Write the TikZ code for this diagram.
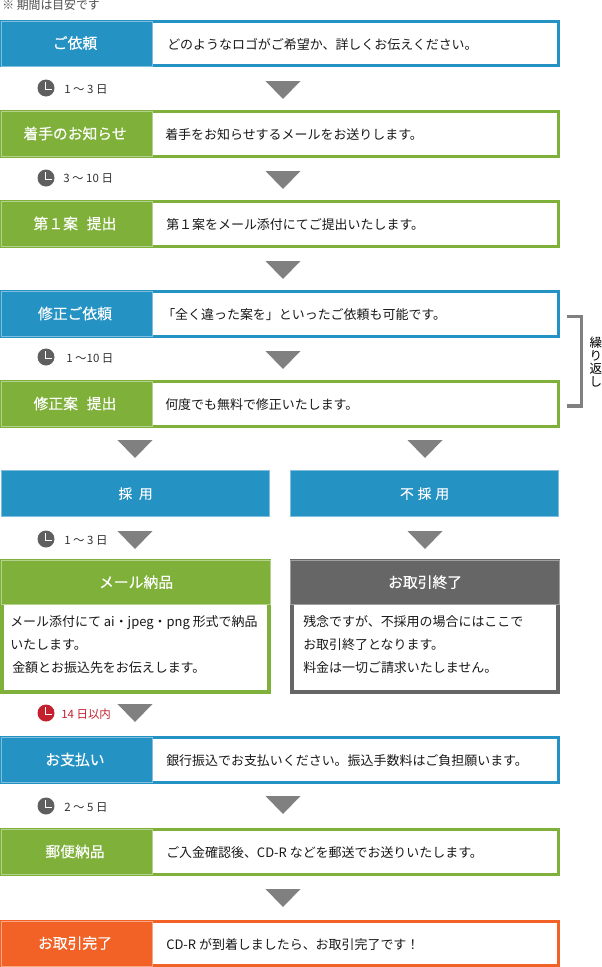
\documentclass[tikz,border=0pt]{standalone}
\usepackage{fontspec}
\setmainfont{Noto Sans CJK JP}
\newfontfamily\headfont[FakeBold=0.25]{Noto Sans CJK JP}
\definecolor{bblue}{HTML}{2592C4}
\definecolor{lblue}{HTML}{7FBEDD}
\definecolor{bgreen}{HTML}{7FB13A}
\definecolor{lgreen}{HTML}{B5D28C}
\definecolor{bgray}{HTML}{666666}
\definecolor{lgray}{HTML}{A0A0A0}
\definecolor{borange}{HTML}{F26125}
\definecolor{lorange}{HTML}{F9A783}
\definecolor{tgray}{HTML}{808080}
\definecolor{clockgray}{HTML}{5F5F5F}
\definecolor{clockred}{HTML}{C4202E}
\newlength{\px}\setlength{\px}{0.75pt}
\tikzset{
  frame/.style={draw=#1,line width=3\px,fill=white},
  thickframe/.style={draw=#1,line width=4\px,fill=white},
  head/.style={fill=#1,inner sep=0pt,text=white,font=\headfont\fontsize{11.1pt}{13pt}\selectfont,line width=1.2\px},
  widehead/.style={head=#1,minimum width=268\px,minimum height=46\px,anchor=north west,font=\headfont\fontsize{10.2pt}{12pt}\selectfont},
  bodytext/.style={anchor=west,inner sep=0pt,font=\fontsize{9.72pt}{12pt}\selectfont,text=black!90},
  blocktext/.style={anchor=north west,inner sep=0pt,align=left,font=\fontsize{9.72pt}{17pt}\selectfont,text=black!90},
  timetext/.style={anchor=west,inner sep=0pt,font=\fontsize{8.6pt}{10pt}\selectfont,text=black!80},
  downtri/.style={fill=tgray,draw=none},
  clockhand/.style={draw=white,line width=0.8\px},
}
% name, top y, dark colour, light colour, label, text, text x
\newcommand{\flowrow}[7]{%
  \draw[frame=#3] (1.5,#2+1.5) rectangle (558,#2+46);
  \node[fill=#3,draw=#4,line width=1.2\px,minimum width=151\px,minimum height=45\px,anchor=north west,inner sep=0pt] (#1h) at (1,#2+1) {};
  \node[text=white,inner sep=0pt,font=\headfont\fontsize{11.1pt}{13pt}\selectfont] (#1l) at (75,#2+23.5) {#5};
  \node[bodytext] (#1t) at (#7,#2+25) {#6};
}
\newcommand{\tridown}[2]{\path[downtri] (#1-17.5,#2) -- (#1+17.5,#2) -- (#1,#2+18) -- cycle;}
\newcommand{\clockicon}[4]{%
  \node[circle,fill=#3,minimum size=17\px,inner sep=0pt] (#4) at (#1,#2) {};
  \draw[clockhand] (#1-0.2,#2-6) -- (#1-0.2,#2+1.5) -- (#1+6,#2+1.5);
}
\begin{document}
\begin{tikzpicture}[x=\px,y=-\px]
\useasboundingbox (0,0) rectangle (602,967);
\node[anchor=west,inner sep=0pt,font=\fontsize{8.9pt}{10pt}\selectfont,text=black!70] (note) at (2,5.5) {※ 期間は目安です};

\flowrow{a}{19.5}{bblue}{lblue}{ご依頼}{どのようなロゴがご希望か、詳しくお伝えください。}{167}
\clockicon{46}{88}{clockgray}{ca}
\node[timetext] (ta) at (64,89) {1 ～ 3 日};
\tridown{283}{81}

\flowrow{b}{110}{bgreen}{lgreen}{着手のお知らせ}{着手をお知らせするメールをお送りします。}{165}
\clockicon{46}{178}{clockgray}{cb}
\node[timetext] (tb) at (63,178) {3 ～ 10 日};
\tridown{283}{171}

\flowrow{c}{200}{bgreen}{lgreen}{第１案\hspace{0.6em}提出}{第１案をメール添付にてご提出いたします。}{166}
\tridown{283}{261}

\flowrow{d}{290}{bblue}{lblue}{修正ご依頼}{「全く違った案を」といったご依頼も可能です。}{162}
\clockicon{46}{357}{clockgray}{cd}
\node[timetext] (td) at (66,358) {1 ～10 日};
\tridown{283}{351}

\flowrow{e}{380}{bgreen}{lgreen}{修正案\hspace{0.6em}提出}{何度でも無料で修正いたします。}{165}

\draw[tgray,line width=3.5\px] (567,316.5) -- (581.5,316.5) -- (581.5,406) -- (567,406);
\node[inner sep=0pt,align=center,font=\fontsize{9.4pt}{9.8pt}\selectfont] (rep) at (596,362) {繰\\り\\返\\し};

\tridown{135}{440}
\tridown{425}{440}

\node[widehead=bblue,draw=lblue] (yes) at (1,470) {採\hspace{0.5em}用};
\node[widehead=bblue,draw=lblue] (no) at (290,470) {不\hspace{0.3em}採\hspace{0.3em}用};

\clockicon{46}{539}{clockgray}{cy}
\node[timetext] (ty) at (64,540) {1 ～ 3 日};
\tridown{135}{531}
\tridown{425}{531}

\draw[thickframe=bgreen] (2,561) rectangle (268.5,692);
\node[head=bgreen,draw=lgreen,minimum width=269\px,minimum height=44\px,anchor=north west] (mh) at (1,559.5) {メール納品};
\node[blocktext] (mt) at (10,615.5) {メール添付にて ai・jpeg・png 形式で納品\\いたします。\\\hspace{2\px}金額とお振込先をお伝えします。};

\draw[thickframe=bgray] (292,561) rectangle (557.5,692);
\node[head=bgray,draw=lgray,minimum width=269\px,minimum height=44\px,anchor=north west] (nh) at (290,559.5) {お取引終了};
\node[blocktext] (nt) at (303,615.5) {残念ですが、不採用の場合にはここで\\お取引終了となります。\\料金は一切ご請求いたしません。};

\clockicon{46}{713}{clockred}{cz}
\node[timetext,text=clockred] (tz) at (61,714.5) {14 日以内};
\tridown{135}{704}

\flowrow{f}{736}{bblue}{lblue}{お支払い}{銀行振込でお支払いください。振込手数料はご負担願います。}{166}
\clockicon{46}{806}{clockgray}{cf}
\node[timetext] (tf) at (64,807) {2 ～ 5 日};
\tridown{283}{796}

\flowrow{g}{828}{bgreen}{lgreen}{郵便納品}{ご入金確認後、CD-R などを郵送でお送りいたします。}{166}
\tridown{283}{889}

\flowrow{h}{919.5}{borange}{lorange}{お取引完了}{CD-R が到着しましたら、お取引完了です！}{166}
\end{tikzpicture}
\end{document}
